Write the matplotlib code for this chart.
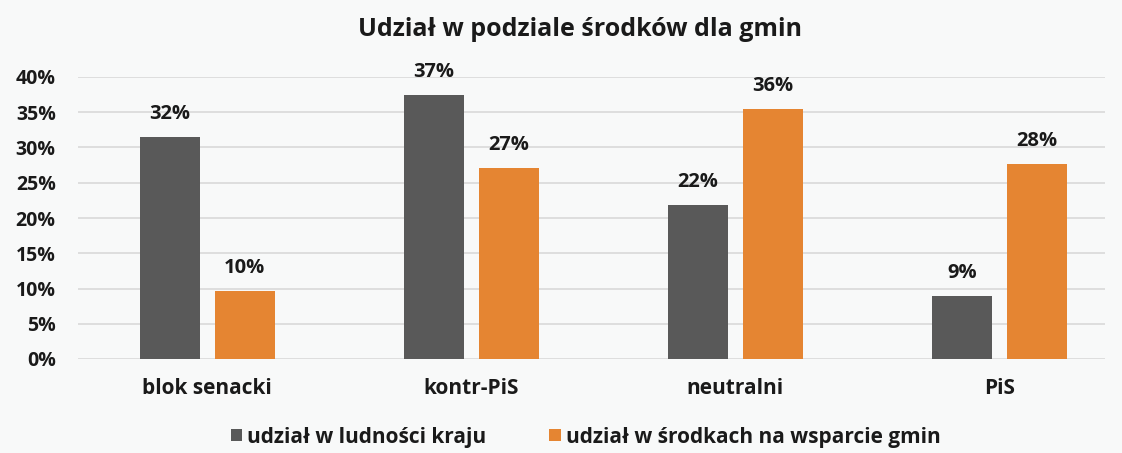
import numpy as np
import matplotlib.pyplot as plt
from matplotlib.ticker import FuncFormatter

CATEGORIES = ["blok senacki", "kontr-PiS", "neutralni", "PiS"]
POPULATION = [31.5, 37.4, 21.8, 9.0]
FUNDS = [9.7, 27.1, 35.5, 27.7]
POP_LABELS = ["32%", "37%", "22%", "9%"]
FUND_LABELS = ["10%", "27%", "36%", "28%"]
SERIES_NAMES = ["udział w ludności kraju", "udział w środkach na wsparcie gmin"]

GRAY = "#595959"
ORANGE = "#E58532"
BG = "#F8F9F9"
TXT = "#1a1a1a"

plt.rcParams["font.family"] = ["Open Sans", "DejaVu Sans"]
plt.rcParams["font.weight"] = "bold"

fig = plt.figure(figsize=(11.22, 4.53), dpi=100, facecolor=BG)
ax = fig.add_axes([78 / 1122, 1 - 359 / 453, 1027 / 1122, (359 - 77) / 453])
ax.set_facecolor(BG)

x = np.arange(len(CATEGORIES))
w = 0.225
off = 0.142
b1 = ax.bar(x - off, POPULATION, w, color=GRAY, label=SERIES_NAMES[0], zorder=3)
b2 = ax.bar(x + off, FUNDS, w, color=ORANGE, label=SERIES_NAMES[1], zorder=3)

for bars, labels in ((b1, POP_LABELS), (b2, FUND_LABELS)):
    for rect, lab in zip(bars, labels):
        ax.annotate(lab, (rect.get_x() + rect.get_width() / 2, rect.get_height()),
                    xytext=(0, 13), textcoords="offset pixels",
                    ha="center", va="bottom", fontsize=14.5, fontweight="bold",
                    color=TXT)

ax.set_xlim(-0.49, 3.4)
ax.set_ylim(0, 40)
ax.set_yticks(np.arange(0, 41, 5))
ax.yaxis.set_major_formatter(FuncFormatter(lambda v, _: f"{v:.0f}%"))
ax.set_xticks(x)
ax.set_xticklabels(CATEGORIES)
ax.tick_params(axis="both", length=0, colors=TXT)
ax.tick_params(axis="x", pad=14, labelsize=15)
ax.tick_params(axis="y", pad=16, labelsize=14)
for lab in ax.get_yticklabels() + ax.get_xticklabels():
    lab.set_fontweight("bold")
ax.grid(axis="y", color="#D9D9D9", linewidth=1.2, zorder=0)
for s in ax.spines.values():
    s.set_visible(False)

fig.text(580 / 1122, 1 - 30 / 453, "Udział w podziale środków dla gmin", ha="center",
         va="center", fontsize=18, fontweight="bold", color=TXT)

leg = fig.legend(handles=[b1, b2], loc="center", bbox_to_anchor=(0.522, 1 - 437 / 453),
                 ncol=2, frameon=False, fontsize=15, handlelength=0.55,
                 handleheight=0.55, handletextpad=0.25, columnspacing=3.0)
for t in leg.get_texts():
    t.set_fontweight("bold")
    t.set_color(TXT)

fig.savefig("out.png", dpi=100, facecolor=BG)
